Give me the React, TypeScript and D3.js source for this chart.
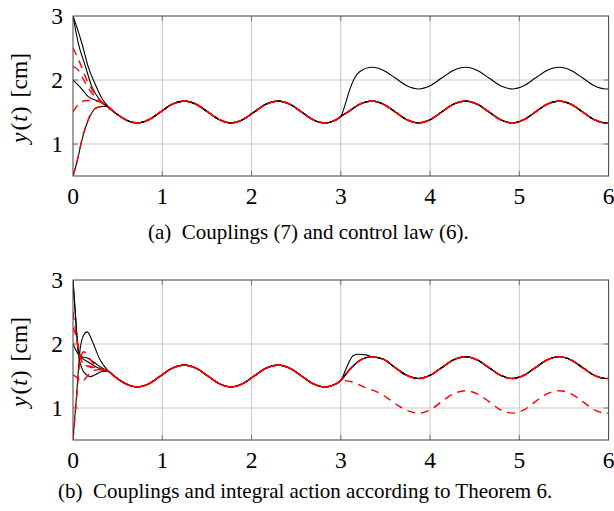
import React, { useEffect, useRef } from 'react';
import * as d3 from 'd3';

type Pt = [number, number];

const xTicks = [0, 1, 2, 3, 4, 5, 6];
const yTicks = [1, 2, 3];
const captionA = '(a)\u2002Couplings (7) and control law (6).';
const captionB = '(b)\u2002Couplings and integral action according to Theorem 6.';

// common oscillation all agents settle on before the step at t = 3
const steadyEarly: Pt[] = [
  [0.46, 1.5], [0.59, 1.38], [0.72, 1.33], [0.85, 1.38], [0.98, 1.5], [1.11, 1.62], [1.25, 1.67],
  [1.38, 1.62], [1.51, 1.5], [1.64, 1.38], [1.77, 1.33], [1.9, 1.38], [2.03, 1.5], [2.16, 1.62],
  [2.3, 1.67], [2.43, 1.62], [2.56, 1.5], [2.69, 1.38], [2.82, 1.33], [2.95, 1.38],
];

// panel (a) tails after t = 3
const tailLowA: Pt[] = [
  [3.0, 1.43], [3.08, 1.5], [3.21, 1.62], [3.35, 1.67], [3.48, 1.62], [3.61, 1.5], [3.74, 1.38],
  [3.87, 1.33], [4.0, 1.38], [4.13, 1.5], [4.26, 1.62], [4.4, 1.67], [4.53, 1.62], [4.66, 1.5],
  [4.79, 1.38], [4.92, 1.33], [5.05, 1.38], [5.18, 1.5], [5.31, 1.62], [5.45, 1.67], [5.58, 1.62],
  [5.71, 1.5], [5.84, 1.38], [5.97, 1.33], [6.0, 1.33],
];
const tailUpA: Pt[] = [
  [3.0, 1.43], [3.05, 1.62], [3.1, 1.85], [3.15, 2.02], [3.21, 2.13], [3.35, 2.2], [3.48, 2.15],
  [3.61, 2.03], [3.74, 1.91], [3.87, 1.86], [4.0, 1.91], [4.13, 2.03], [4.26, 2.15], [4.4, 2.2],
  [4.53, 2.15], [4.66, 2.03], [4.79, 1.91], [4.92, 1.86], [5.05, 1.91], [5.18, 2.03], [5.31, 2.15],
  [5.45, 2.2], [5.58, 2.15], [5.71, 2.03], [5.84, 1.91], [5.97, 1.86], [6.0, 1.86],
];

// panel (b) tails after t = 3
const tailMainB: Pt[] = [
  [3.0, 1.43], [3.08, 1.57], [3.21, 1.74], [3.35, 1.8], [3.48, 1.76], [3.61, 1.63], [3.74, 1.51],
  [3.87, 1.46], [4.0, 1.51], [4.13, 1.63], [4.26, 1.75], [4.4, 1.8], [4.53, 1.75], [4.66, 1.63],
  [4.79, 1.51], [4.92, 1.46], [5.05, 1.51], [5.18, 1.63], [5.31, 1.75], [5.45, 1.8], [5.58, 1.75],
  [5.71, 1.63], [5.84, 1.51], [5.97, 1.46], [6.0, 1.46],
];
const tailOverB: Pt[] = [[3.0, 1.43], [3.07, 1.65], [3.14, 1.82], [3.2, 1.84], [3.28, 1.83]];
const tailLowB: Pt[] = [
  [3.0, 1.43], [3.12, 1.41], [3.29, 1.31], [3.44, 1.23], [3.63, 1.05], [3.76, 0.95], [3.87, 0.92],
  [4.0, 0.97], [4.13, 1.1], [4.26, 1.22], [4.4, 1.27], [4.53, 1.22], [4.66, 1.1], [4.79, 0.97],
  [4.92, 0.92], [5.05, 0.97], [5.18, 1.1], [5.31, 1.22], [5.45, 1.27], [5.58, 1.22], [5.71, 1.1],
  [5.84, 0.97], [5.97, 0.92], [6.0, 0.92],
];

// initial transients, panel (a)
const blackA1: Pt[] = [[0, 3.0], [0.06, 2.57], [0.14, 2.21], [0.21, 1.9], [0.3, 1.69], [0.38, 1.59]];
const blackA2: Pt[] = [[0, 3.0], [0.03, 2.88], [0.1, 2.57], [0.17, 2.21], [0.25, 1.93], [0.33, 1.7], [0.4, 1.58]];
const blackA3: Pt[] = [[0, 2.0], [0.08, 1.89], [0.17, 1.74], [0.3, 1.66], [0.38, 1.59]];
const blackA4: Pt[] = [[0, 0.5], [0.05, 0.75], [0.1, 1.06], [0.17, 1.37], [0.27, 1.57], [0.38, 1.59]];
const redA1: Pt[] = [[0, 2.5], [0.08, 2.26], [0.155, 2.0], [0.23, 1.82], [0.3, 1.69], [0.38, 1.59]];
const redA2: Pt[] = [[0, 2.21], [0.05, 2.17], [0.12, 2.0], [0.2, 1.82], [0.3, 1.67], [0.38, 1.59]];
const redA3: Pt[] = [[0, 1.5], [0.06, 1.62], [0.15, 1.68], [0.3, 1.66], [0.38, 1.59]];
const redA4: Pt[] = [[0, 0.5], [0.05, 0.76], [0.1, 1.07], [0.17, 1.38], [0.27, 1.57], [0.38, 1.59]];

// initial transients, panel (b)
const blackB1: Pt[] = [[0, 3.0], [0.03, 2.4], [0.06, 1.9], [0.1, 1.8], [0.16, 1.78], [0.25, 1.7], [0.33, 1.62], [0.4, 1.57]];
const blackB2: Pt[] = [[0, 3.0], [0.03, 2.4], [0.06, 1.85], [0.1, 1.62], [0.15, 1.52], [0.19, 1.49], [0.25, 1.52], [0.33, 1.57], [0.4, 1.57]];
const blackB3: Pt[] = [[0, 2.0], [0.05, 1.86], [0.1, 1.78], [0.17, 1.72], [0.25, 1.65], [0.33, 1.6], [0.4, 1.57]];
const blackB4: Pt[] = [[0, 0.5], [0.04, 1.2], [0.08, 1.92], [0.12, 2.14], [0.16, 2.19], [0.22, 2.03], [0.3, 1.76], [0.4, 1.57]];
const redB1: Pt[] = [[0, 2.5], [0.03, 2.2], [0.06, 1.9], [0.1, 1.72], [0.15, 1.66], [0.22, 1.63], [0.3, 1.6], [0.4, 1.57]];
const redB2: Pt[] = [[0, 1.52], [0.05, 1.47], [0.1, 1.41], [0.15, 1.48], [0.22, 1.58], [0.3, 1.6], [0.4, 1.57]];
const redB3: Pt[] = [[0, 0.5], [0.04, 1.15], [0.08, 1.75], [0.12, 1.88], [0.17, 1.8], [0.24, 1.68], [0.32, 1.61], [0.4, 1.57]];
const redB4: Pt[] = [[0, 2.25], [0.04, 2.1], [0.08, 1.82], [0.12, 1.68], [0.2, 1.65], [0.3, 1.61], [0.4, 1.57]];

const FONT = "'Liberation Serif', 'Times New Roman', Times, 'DejaVu Serif', serif";

type Series = { pts: Pt[]; red: boolean };

const mainAfterOver = tailMainB.filter((d) => d[0] >= 3.35);

const panelA: Series[] = [
  { pts: blackA1.concat(steadyEarly, tailUpA), red: false },
  { pts: blackA2.concat(steadyEarly, tailLowA), red: false },
  { pts: blackA3.concat(steadyEarly, tailLowA), red: false },
  { pts: blackA4.concat(steadyEarly, tailLowA), red: false },
  { pts: redA1.concat(steadyEarly, tailLowA), red: true },
  { pts: redA2.concat(steadyEarly, tailLowA), red: true },
  { pts: redA3.concat(steadyEarly, tailLowA), red: true },
  { pts: redA4.concat(steadyEarly, tailLowA), red: true },
];

const panelB: Series[] = [
  { pts: blackB1.concat(steadyEarly, tailOverB, mainAfterOver), red: false },
  { pts: blackB2.concat(steadyEarly, tailMainB), red: false },
  { pts: blackB3.concat(steadyEarly, tailMainB), red: false },
  { pts: blackB4.concat(steadyEarly, tailMainB), red: false },
  { pts: redB1.concat(steadyEarly, tailMainB), red: true },
  { pts: redB2.concat(steadyEarly, tailLowB), red: true },
  { pts: redB3.concat(steadyEarly, tailMainB), red: true },
  { pts: redB4.concat(steadyEarly, tailMainB), red: true },
];

const App = () => {
  const ref = useRef<SVGSVGElement>(null);

  useEffect(() => {
    const svg = d3.select(ref.current);
    svg.selectAll('*').remove();

    const left = 73;
    const right = 608.6;

    const drawPanel = (top: number, bottom: number, series: Series[], caption: string, capX: number, capY: number, id: string) => {
      const x = d3.scaleLinear().domain([0, 6]).range([left, right]);
      const y = d3.scaleLinear().domain([0.5, 3]).range([bottom, top]);
      const g = svg.append('g');

      g.append('clipPath').attr('id', id)
        .append('rect').attr('x', left).attr('y', top).attr('width', right - left).attr('height', bottom - top);

      // grid
      g.selectAll('.vg').data(xTicks.slice(1, -1)).join('line')
        .attr('x1', (d) => x(d)).attr('x2', (d) => x(d)).attr('y1', top).attr('y2', bottom)
        .attr('stroke', '#c8c8c8').attr('stroke-width', 1);
      g.selectAll('.hg').data([1, 2]).join('line')
        .attr('x1', left).attr('x2', right).attr('y1', (d) => y(d)).attr('y2', (d) => y(d))
        .attr('stroke', '#c8c8c8').attr('stroke-width', 1);

      // inner ticks on all sides
      const tk = 5;
      xTicks.slice(1, -1).forEach((d) => {
        g.append('line').attr('x1', x(d)).attr('x2', x(d)).attr('y1', bottom).attr('y2', bottom - tk).attr('stroke', '#777');
        g.append('line').attr('x1', x(d)).attr('x2', x(d)).attr('y1', top).attr('y2', top + tk).attr('stroke', '#777');
      });
      [1, 2].forEach((d) => {
        g.append('line').attr('x1', left).attr('x2', left + tk).attr('y1', y(d)).attr('y2', y(d)).attr('stroke', '#777');
        g.append('line').attr('x1', right).attr('x2', right - tk).attr('y1', y(d)).attr('y2', y(d)).attr('stroke', '#777');
      });

      const line = d3.line<Pt>()
        .x((d) => x(d[0]))
        .y((d) => y(d[1]))
        .curve(d3.curveMonotoneX);

      const lines = g.append('g').attr('clip-path', `url(#${id})`);
      lines.selectAll('.blk').data(series.filter((s) => !s.red)).join('path')
        .attr('fill', 'none').attr('stroke', '#000').attr('stroke-width', 1.1)
        .attr('d', (d) => line(d.pts));
      lines.selectAll('.red').data(series.filter((s) => s.red)).join('path')
        .attr('fill', 'none').attr('stroke', '#ff0000').attr('stroke-width', 1.4)
        .attr('stroke-dasharray', '8,6')
        .attr('d', (d) => line(d.pts));

      // frame
      g.append('rect').attr('x', left).attr('y', top).attr('width', right - left).attr('height', bottom - top)
        .attr('fill', 'none').attr('stroke', '#404040').attr('stroke-width', 1);

      // tick labels
      g.selectAll('.xl').data(xTicks).join('text')
        .attr('x', (d) => x(d)).attr('y', bottom + 28)
        .attr('text-anchor', 'middle').attr('font-family', FONT).attr('font-size', 23.5)
        .text((d) => d);
      g.selectAll('.yl').data(yTicks).join('text')
        .attr('x', left - 10).attr('y', (d) => y(d) + 8)
        .attr('text-anchor', 'end').attr('font-family', FONT).attr('font-size', 23.5)
        .text((d) => d);

      // axis title
      const t = g.append('text')
        .attr('transform', `translate(27, ${(top + bottom) / 2 + 2}) rotate(-90)`)
        .attr('text-anchor', 'middle').attr('font-family', FONT).attr('font-size', 23.5);
      t.append('tspan').attr('font-style', 'italic').text('y');
      t.append('tspan').attr('dx', 2).text('(');
      t.append('tspan').attr('font-style', 'italic').attr('dx', 1).text('t');
      t.append('tspan').attr('dx', 1).text(')');
      t.append('tspan').attr('dx', 9).text('[cm]');

      g.append('text').attr('x', capX).attr('y', capY)
        .attr('font-family', FONT).attr('font-size', 21).text(caption);
    };

    drawPanel(16, 176, panelA, captionA, 148, 239, 'clipA');
    drawPanel(280, 440, panelB, captionB, 58, 498, 'clipB');
  }, []);

  return (
    <svg ref={ref} width={614} height={511}
      style={{ position: 'absolute', left: 0, top: 0, background: '#fff' }} />
  );
};

export default App;
